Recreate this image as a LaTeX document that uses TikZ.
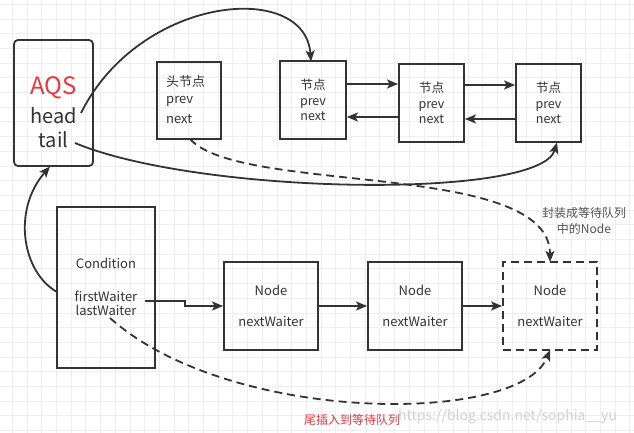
\documentclass[tikz,border=0pt]{standalone}
\usepackage{fontspec}
\setmainfont{Noto Sans CJK SC}
\usetikzlibrary{arrows.meta,calc}
\definecolor{ink}{HTML}{333333}
\definecolor{aqsred}{HTML}{E8383D}
\definecolor{gridc}{HTML}{EEEEF2}
\begin{document}
\begin{tikzpicture}[x=1pt,y=-1pt,
  box/.style={draw=ink,line width=1.8pt,inner sep=0pt},
  txt/.style={text=ink,font=\fontsize{13}{15}\selectfont,inner sep=0pt},
  arr/.style={draw=ink,line width=1.8pt,-{Stealth[length=11pt,width=9pt,inset=2.5pt]}},
  darr/.style={arr,dash pattern=on 8pt off 5pt}]
\useasboundingbox (0,0) rectangle (634,433);
\fill[white] (0,0) rectangle (634,433);
% grid
\foreach \i in {0,...,43} {\draw[gridc,line width=0.7pt] ({-2.4+\i*14.7},0) -- ({-2.4+\i*14.7},433);}
\foreach \i in {0,...,29} {\draw[gridc,line width=0.7pt] (0,{4.2+\i*14.7}) -- (634,{4.2+\i*14.7});}
% AQS
\node[box,rounded corners=4pt,minimum width=79pt,minimum height=126pt] (aqs) at (53.5,103) {};
\node[inner sep=0pt,text=aqsred,font=\fontsize{24}{26}\selectfont] (aqst) at (53.5,88) {AQS};
\node[txt,font=\fontsize{20}{22}\selectfont] (head) at (53.5,116) {head};
\node[txt,font=\fontsize{20}{22}\selectfont] (tail) at (53.5,140) {tail};
% head node
\node[box,minimum width=64pt,minimum height=77pt] (hn) at (189,100.5) {};
\node[txt,anchor=west] (hn1) at (166,82) {头节点};
\node[txt,anchor=west] (hn2) at (166,101) {prev};
\node[txt,anchor=west] (hn3) at (166,119) {next};
% nodes
\node[box,minimum width=66pt,minimum height=78pt] (n1) at (313,100) {};
\node[txt,align=center,font=\fontsize{12.5}{15.5}\selectfont] (n1t) at (313,100) {节点\\prev\\next};
\node[box,minimum width=65pt,minimum height=78pt] (n2) at (431.5,103) {};
\node[txt,align=center,font=\fontsize{12.5}{15.5}\selectfont] (n2t) at (431.5,103) {节点\\prev\\next};
\node[box,minimum width=65pt,minimum height=78pt] (n3) at (548.5,103) {};
\node[txt,align=center,font=\fontsize{12.5}{15.5}\selectfont] (n3t) at (548.5,103) {节点\\prev\\next};
% condition
\node[box,minimum width=98pt,minimum height=161pt] (cond) at (106,287.5) {};
\node[txt] (condt) at (106,263) {Condition};
\node[txt] (fw) at (106,296) {firstWaiter};
\node[txt] (lw) at (106,310) {lastWaiter};
% waiter nodes
\node[box,minimum width=94pt,minimum height=88pt] (w1) at (271,306) {};
\node[txt] (w1a) at (271,290) {Node};
\node[txt] (w1b) at (271,322) {nextWaiter};
\node[box,minimum width=94pt,minimum height=88pt] (w2) at (415,306) {};
\node[txt] (w2a) at (415,290) {Node};
\node[txt] (w2b) at (415,322) {nextWaiter};
\node[box,dash pattern=on 8pt off 5pt,minimum width=94pt,minimum height=88pt] (w3) at (550,306) {};
\node[txt] (w3a) at (550,290) {Node};
\node[txt] (w3b) at (550,322) {nextWaiter};
% labels
\node[inner sep=0pt,align=center,text=ink!85,font=\fontsize{12}{16}\selectfont] (lab1) at (584,221) {封装成等待队列\\中的Node};
\node[inner sep=0pt,text=aqsred,font=\fontsize{12}{14}\selectfont] (lab2) at (352,420) {尾插入到等待队列};
\node[inner sep=0pt,anchor=west,text=black!18,font=\fontsize{14}{16}\selectfont] (wm) at (398,417) {https://blog.csdn.net/sophia\_\_yu};
% connectors
\coordinate (hs) at (81,113);
\coordinate (ts) at (75,143);
\coordinate (n1top) at (311,61.5);
\coordinate (n3bot) at (557,142.5);
\draw[arr] (hs) .. controls (140,-5) and (305,-20) .. (n1top);
\draw[arr] (ts) .. controls (200,195) and (540,200) .. (n3bot);
\coordinate (hnb) at (190,139);
\coordinate (w3top) at (550,262);
\draw[darr] (hnb) .. controls (240,195) and (550,160) .. (w3top);
\coordinate (cl) at (57,292);
\coordinate (aqb) at (50,166.5);
\draw[arr] (cl) .. controls (22,272) and (12,210) .. (aqb);
\draw[arr] ([yshift=16pt]n1.east) coordinate (a1) -- (a1 -| n2.west);
\draw[arr] ([yshift=-14pt]n2.west) coordinate (b1) -- (b1 -| n1.east);
\draw[arr] ([yshift=18pt]n2.east) coordinate (a2) -- (a2 -| n3.west);
\draw[arr] ([yshift=-16pt]n3.west) coordinate (b2) -- (b2 -| n2.east);
\coordinate (fws) at (145,301);
\draw[arr] (fws) -- (185,301) -- (185,306) -- (w1.west);
\draw[arr] (w1.east) -- (w2.west);
\draw[arr] (w2.east) -- (w3.west);
\coordinate (lws) at (110,318);
\coordinate (w3bot) at (550,350);
\draw[darr] (lws) .. controls (230,425) and (520,425) .. (w3bot);
\end{tikzpicture}
\end{document}
